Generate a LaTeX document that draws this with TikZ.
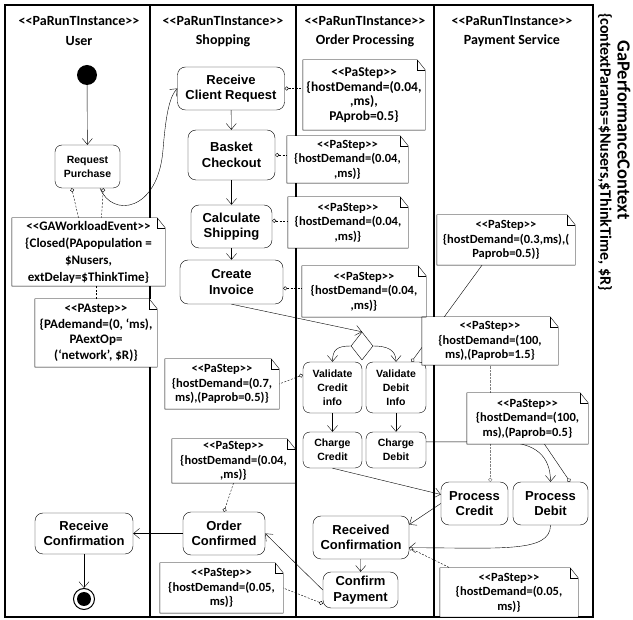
\documentclass[tikz,border=0pt]{standalone}
\usepackage{fontspec}
\setmainfont{Carlito}
\newfontfamily\actfont{Liberation Sans}
\usetikzlibrary{arrows.meta,shapes.geometric,backgrounds}

% stereotype text, kept apart so << does not turn into a guillemet
\newcommand{\stereo}[1]{<\kern0pt<#1>\kern0pt>}
% outline with a folded corner round a note node
\newcommand{\foldnote}[1]{%
	\draw (#1.north west) -- ([xshift=-8pt]#1.north east) -- ([yshift=-10pt]#1.north east) -- (#1.south east) -- (#1.south west) -- cycle;
	\draw ([xshift=-8pt]#1.north east) |- ([yshift=-10pt]#1.north east);
}

\begin{document}
\begin{tikzpicture}[x=1pt,y=-1pt,
	lane/.style={line width=1.1pt},
	act/.style={draw, rounded corners=8pt, align=center, inner sep=0pt, font=\actfont\bfseries\fontsize{13}{15.5}\selectfont},
	actsm/.style={act, rounded corners=7pt, font=\actfont\bfseries\fontsize{10.5}{14}\selectfont},
	sz/.style 2 args={minimum width=#1pt, minimum height=#2pt},
	panote/.style={fill=white, align=center, inner sep=0pt, font=\bfseries\fontsize{12.5}{14.5}\selectfont},
	flow/.style={-{Straight Barb[length=6pt,width=10pt]}},
	tag/.style={dash pattern=on 2pt off 1.5pt, {Circle[fill=white,length=4pt]}-},
	head/.style={font=\bfseries\fontsize{14}{16}\selectfont}]

	\useasboundingbox (0,0) rectangle (633,620);

	% swimlanes
	\draw[lane] (5,5) rectangle (593,617);
	\foreach \lx in {150,296,434}
		\draw[lane] (\lx,5) -- (\lx,617);
	\foreach \cx/\nm [count=\i] in {79/User, 223/Shopping, 365/Order Processing, 512/Payment Service}{
		\node[head] (st\i) at (\cx,21) {\stereo{PaRunTInstance}};
		\node[head] (ln\i) at (\cx,41) {\nm};
	}
	\node[rotate=-90, inner sep=1pt, font=\bfseries\fontsize{18.5}{20}\selectfont] (gpc) at (624,130) {GaPerformanceContext};
	\node[rotate=-90, inner sep=1pt, font=\bfseries\fontsize{16}{18}\selectfont] (gpcp) at (605,152) {\{contextParams=\$Nusers,\$ThinkTime, \$R\}};

	% actions
	\node[circle, fill=black, minimum size=20pt, inner sep=0pt] (init) at (87,75) {};
	\node[actsm, sz={65}{43}] (reqp) at (87.5,166.5) {Request\\Purchase};
	\node[act, sz={107}{43}] (rcr) at (231,88.5) {Receive\\Client Request};
	\node[act, sz={87}{50}] (bc) at (231.5,155) {Basket\\Checkout};
	\node[act, sz={81}{43}] (cs) at (231.5,226.5) {Calculate\\Shipping};
	\node[act, sz={103}{44}] (ci) at (231.5,282) {Create\\Invoice};
	\node[draw, diamond, minimum width=22pt, minimum height=28pt, inner sep=0pt] (dec) at (362,346) {};
	\node[actsm, sz={59}{51}] (vci) at (332.5,387.5) {Validate\\Credit\\info};
	\node[actsm, sz={60}{51}] (vdi) at (396,387.5) {Validate\\Debit\\Info};
	\node[actsm, sz={59}{36}] (chc) at (332.5,450) {Charge\\Credit};
	\node[actsm, sz={60}{36}] (chd) at (396,450) {Charge\\Debit};
	\node[act, sz={67}{43}] (pc) at (474.5,503.5) {Process\\Credit};
	\node[act, sz={75}{43}] (pd) at (550.5,503.5) {Process\\Debit};
	\node[act, sz={96}{43}] (rcf) at (361,537.5) {Received\\Confirmation};
	\node[act, sz={75}{36}] (cp) at (360.5,590) {Confirm\\Payment};
	\node[act, sz={82}{43}] (oc) at (224,533.5) {Order\\Confirmed};
	\node[act, sz={98}{41}] (recv) at (84,533.5) {Receive\\Confirmation};
	\node[circle, draw, line width=1pt, minimum size=21pt, inner sep=0pt] (fin) at (84,599) {};
	\fill (fin) circle (7);

	% notes
	\node[panote, sz={122}{70}, font=\bfseries\fontsize{13.5}{14.5}\selectfont] (nRcr) at (364,95) {\stereo{PaStep}\\\{hostDemand=(0.04,\\,ms),\\PAprob=0.5\}};
	\node[panote, sz={121}{47}] (nBc) at (347.5,159.5) {\stereo{PaStep}\\\{hostDemand=(0.04,\\,ms)\}};
	\node[panote, sz={120}{51}] (nCs) at (348,222.5) {\stereo{PaStep}\\\{hostDemand=(0.04,\\,ms)\}};
	\node[panote, sz={124}{51}] (nCi) at (364,291.5) {\stereo{PaStep}\\\{hostDemand=(0.04,\\,ms)\}};
	\node[panote, sz={114}{50}] (nVc) at (222,384) {\stereo{PaStep}\\\{hostDemand=(0.7,\\ms),(Paprob=0.5)\}};
	\node[panote, sz={123}{44}] (nOc) at (233.5,461) {\stereo{PaStep}\\\{hostDemand=(0.04,\\,ms)\}};
	\node[panote, sz={123}{50}] (nCp) at (221.5,588) {\stereo{PaStep}\\\{hostDemand=(0.05,\\ms)\}};
	\node[panote, sz={138}{50}] (nPay) at (506,240) {\stereo{PaStep}\\\{hostDemand=(0.3,ms),(\\Paprob=0.5)\}};
	\node[panote, sz={136}{48}] (nVd) at (490,341) {\stereo{PaStep}\\\{hostDemand=(100,\\ms),(Paprob=1.5\}};
	\node[panote, sz={121}{51}] (nPd) at (527.5,418.5) {\stereo{PaStep}\\\{hostDemand=(100,\\ms),(Paprob=0.5\}};
	\node[panote, sz={138}{49}] (nRc) at (509,592.5) {\stereo{PaStep}\\\{hostDemand=(0.05,\\ms)\}};
	\node[panote, sz={153}{68}, font=\bfseries\fontsize{13}{17}\selectfont] (nGa) at (88.5,252) {\stereo{GAWorkloadEvent}\\\{Closed(PApopulation =\\\$Nusers,\\extDelay=\$ThinkTime\}};
	\node[panote, sz={122}{68}, font=\bfseries\fontsize{13}{15.5}\selectfont] (nPa) at (96,333) {\stereo{PAstep}\\\{PAdemand=(0, ‘ms),\\PAextOp=\\(‘network’, \$R)\}};
	\foreach \n in {nRcr,nBc,nCs,nCi,nVc,nOc,nCp,nPay,nVd,nPd,nRc,nGa,nPa}
		\foldnote{\n};

	\begin{scope}[on background layer]
		% control flow
		\draw[flow] (init) -- (reqp);
		\draw[flow] (reqp.-60) .. controls (112,218) and (158,212) .. (163,150) .. controls (166,112) and (170,96) .. (rcr.west);
		\draw[flow] (rcr) -- (bc);
		\draw[flow] (bc) -- (cs);
		\draw[flow] (cs) -- (ci);
		\draw[flow] (ci.south) -- (dec.north);
		\draw[flow] (dec.west) .. controls +(-14,0) and +(0,-12) .. (vci.north);
		\draw[flow] (dec.east) .. controls +(14,0) and +(0,-12) .. (vdi.north);
		\draw[flow] (vci) -- (chc);
		\draw[flow] (vdi) -- (chd);
		\draw[flow] (chc.south) -- (pc.165);
		\draw[flow] (chd.15) -- ++(75,0) .. controls +(35,0) and +(0,-25) .. (pd.north);
		\draw[flow] (pc.west) -- (rcf.15);
		\draw[flow] (pd.south) .. controls +(0,28) and +(90,0) .. (rcf.-12);
		\draw[flow] (rcf) -- (cp);
		\draw[flow] (cp.west) -- (oc.east);
		\draw[flow] (oc) -- (recv);
		\draw[flow] (recv) -- (fin);
		% stereotype links
		\draw[tag] (rcr.east) -- (rcr.east -| nRcr.west);
		\draw[tag] (bc.east) -- (bc.east -| nBc.west);
		\draw[tag] (cs.8) -- (cs.8 -| nCs.west);
		\draw[tag] (ci.-7) -- (ci.-7 -| nCi.west);
		\draw[tag] (vci.157) -- (nVc.east);
		\draw[tag] (oc.north) -- (nOc.south);
		\draw[tag] (cp.200) -- (nCp.east);
		\draw[tag] (rcf.-12) -- ([xshift=10pt]nRc.north west);
		\draw[tag] (reqp.-126) -- ([xshift=-10pt]nGa.north);
		\draw[tag] (reqp.-54) -- ([xshift=13pt]nGa.north);
		\draw[dash pattern=on 2pt off 1.5pt] (nPa.north) -- (nPa.north |- nGa.south);
		\draw[tag, solid, thin] (vdi.59) -- ([xshift=-24pt]nPay.south);
		\draw[tag, densely dotted, gray] (pc.54) -- (pc.54 |- nVd.south);
		\draw[tag, solid, thin] (pd.48) -- ([xshift=17pt]nPd.south);
	\end{scope}
\end{tikzpicture}
\end{document}
